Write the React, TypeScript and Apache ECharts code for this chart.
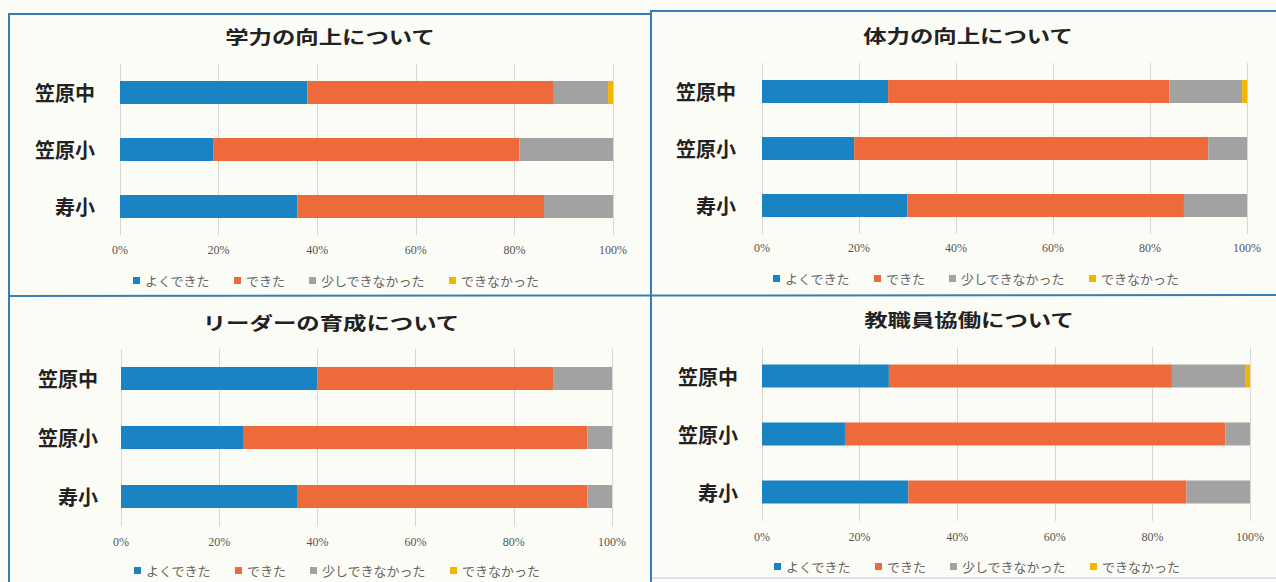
import React, { useEffect, useRef } from "react";
import * as echarts from "echarts";

const categories = ["笠原中", "笠原小", "寿小"];
const statuses = ["よくできた", "できた", "少しできなかった", "できなかった"];
const tickValues = [0, 20, 40, 60, 80, 100];

const titles = ["学力の向上について", "体力の向上について", "リーダーの育成について", "教職員協働について"];

// 学力の向上について
const academicVeryGood = [38, 19, 36];
const academicGood = [50, 62, 50];
const academicSomewhatNot = [11, 19, 14];
const academicNot = [1, 0, 0];
// 体力の向上について
const physicalVeryGood = [26, 19, 30];
const physicalGood = [58, 73, 57];
const physicalSomewhatNot = [15, 8, 13];
const physicalNot = [1, 0, 0];
// リーダーの育成について
const leaderVeryGood = [40, 25, 36];
const leaderGood = [48, 70, 59];
const leaderSomewhatNot = [12, 5, 5];
const leaderNot = [0, 0, 0];
// 教職員協働について
const staffVeryGood = [26, 17, 30];
const staffGood = [58, 78, 57];
const staffSomewhatNot = [15, 5, 13];
const staffNot = [1, 0, 0];

const panelData = [
  [academicVeryGood, academicGood, academicSomewhatNot, academicNot],
  [physicalVeryGood, physicalGood, physicalSomewhatNot, physicalNot],
  [leaderVeryGood, leaderGood, leaderSomewhatNot, leaderNot],
  [staffVeryGood, staffGood, staffSomewhatNot, staffNot],
];

const colors = ["#1a83c4", "#ee6a3a", "#a2a2a2", "#f5b400"];

// layout per panel
const layout = [
  { left: 120, width: 493, top: 64, height: 171, labelMargin: 25, axisMargin: 9, legendLeft: 128, legendTop: 269, titleX: 330, titleY: 36 },
  { left: 762, width: 485, top: 63, height: 171, labelMargin: 26, axisMargin: 8, legendLeft: 768, legendTop: 267, titleX: 968, titleY: 35 },
  { left: 121, width: 491, top: 349, height: 177, labelMargin: 23, axisMargin: 10, legendLeft: 129, legendTop: 559, titleX: 331, titleY: 322 },
  { left: 762, width: 488, top: 347, height: 174, labelMargin: 24, axisMargin: 10, legendLeft: 769, legendTop: 555, titleX: 969, titleY: 319 },
];

const borderColor = "#3b7db3";

export default function App() {
  const ref = useRef<HTMLDivElement>(null);

  useEffect(() => {
    if (!ref.current) return;
    const chart = echarts.init(ref.current, null, { renderer: "svg" });

    const grid = layout.map((l) => ({ left: l.left, top: l.top, width: l.width, height: l.height, containLabel: false }));

    const xAxis = layout.map((l, i) => ({
      type: "value",
      gridIndex: i,
      min: tickValues[0],
      max: tickValues[tickValues.length - 1],
      interval: tickValues[1] - tickValues[0],
      axisLine: { show: false },
      axisTick: { show: false },
      splitLine: { show: true, lineStyle: { color: "#d6d6d6", width: 1 } },
      axisLabel: {
        formatter: "{value}%",
        margin: l.axisMargin,
        fontFamily: "Liberation Serif",
        fontSize: 12,
        color: "#555",
      },
    }));

    const yAxis = layout.map((l, i) => ({
      type: "category",
      gridIndex: i,
      data: categories,
      inverse: true,
      axisLine: { show: false },
      axisTick: { show: false },
      splitLine: { show: false },
      axisLabel: {
        margin: l.labelMargin,
        fontFamily: "Noto Sans CJK JP",
        fontWeight: "bold",
        fontSize: 20,
        color: "#222",
      },
    }));

    const series: any[] = [];
    panelData.forEach((panel, p) => {
      panel.forEach((vals, s) => {
        series.push({
          type: "bar",
          name: statuses[s],
          xAxisIndex: p,
          yAxisIndex: p,
          stack: "panel" + p,
          data: vals,
          barWidth: 23,
          itemStyle: { color: colors[s] },
          emphasis: { disabled: true },
        });
      });
    });

    const legend = layout.map((l) => ({
      data: statuses,
      left: l.legendLeft,
      top: l.legendTop,
      icon: "rect",
      itemWidth: 7,
      itemHeight: 7,
      itemGap: 24,
      textStyle: { fontFamily: "Noto Sans CJK JP", fontSize: 13, color: "#666" },
      selectedMode: false,
    }));

    const graphic: any[] = [];
    layout.forEach((l, i) => {
      graphic.push({
        type: "text",
        x: l.titleX,
        y: l.titleY,
        scaleX: 1.3,
        style: {
          text: titles[i],
          fill: "#222",
          fontFamily: "Noto Sans CJK JP",
          fontWeight: "bold",
          fontSize: 18,
          align: "center",
          verticalAlign: "middle",
        },
      });
    });
    const lines = [
      [8, 14, 650, 14],
      [650, 11, 1276, 11],
      [9, 14, 9, 582],
      [651, 11, 651, 582],
      [8, 296, 1276, 295],
    ];
    lines.forEach(([x1, y1, x2, y2]) => {
      graphic.push({
        type: "line",
        shape: { x1, y1, x2, y2 },
        style: { stroke: borderColor, lineWidth: 2 },
      });
    });
    graphic.push({
      type: "line",
      shape: { x1: 652, y1: 578, x2: 1276, y2: 578 },
      style: { stroke: "#e8d8f0", lineWidth: 2 },
    });

    chart.setOption({
      animation: false,
      backgroundColor: "#fcfcf6",
      grid,
      xAxis,
      yAxis,
      series,
      legend,
      graphic,
    });

    return () => chart.dispose();
  }, []);

  return (
    <div
      ref={ref}
      style={{ position: "absolute", left: 0, top: 0, width: 1276, height: 582 }}
    />
  );
}
